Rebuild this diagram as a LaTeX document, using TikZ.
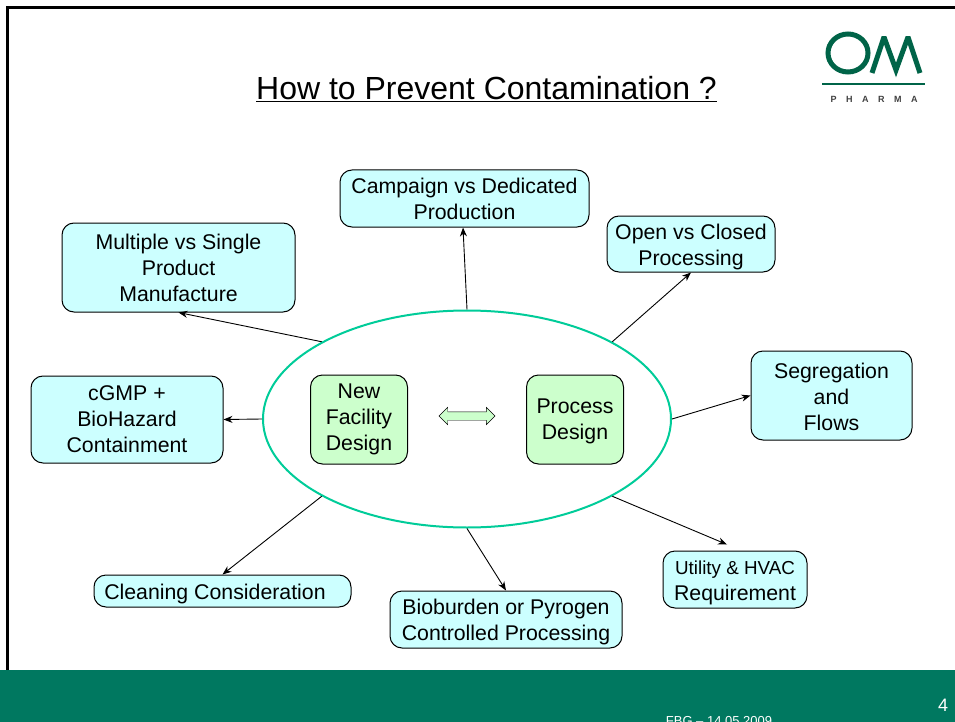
\documentclass[tikz,border=0pt]{standalone}
\usepackage{fontspec}
\setmainfont{Liberation Sans}
\usepackage{xcolor}
\definecolor{paleblue}{RGB}{204, 255, 255}
\definecolor{palegreen}{RGB}{204, 255, 204}
\definecolor{ringgreen}{RGB}{0, 204, 153}
\definecolor{bandgreen}{RGB}{0, 120, 96}
\definecolor{logogreen}{RGB}{0, 100, 72}
\usetikzlibrary{positioning, shapes.geometric, shapes.arrows, arrows.meta}
\newcommand{\nudge}{\rule{0pt}{20.5pt}}
\tikzset{
  topic/.style = {
    draw,
    line width=1pt,
    rounded corners=12pt,
    fill=paleblue,
    align=center,
    inner sep=0pt,
    font=\fontsize{21.3}{26}\selectfont
  },
  design/.style = {
    topic,
    fill=palegreen,
    minimum width=97pt,
    minimum height=89pt
  },
  arrow/.style = {
    -{Stealth[length=9pt, width=7pt]},
    line width=0.9pt
  },
}
\begin{document}
\begin{tikzpicture}[x=1pt, y=-1pt]
    \clip (0,0) rectangle (955,722);
    \fill[white] (0,0) rectangle (955,722);
    % frame and footer band
    \draw[line width=3pt] (7.5,670) -- (7.5,8) -- (955,8);
    \fill[bandgreen] (0,670) rectangle (955,722);
    \node[text=white, font=\fontsize{13}{15}\selectfont] (date) at (719,721) {FBG – 14.05.2009};
    \node[text=white, font=\fontsize{18}{20}\selectfont] (page) at (943,705) {4};
    % logo
    \draw[logogreen, line width=5pt] (848,53) ellipse (20 and 19);
    \draw[logogreen, line width=5pt, miter limit=3] (872,73) -- (884,37) -- (896,70) -- (908,37) -- (920,73);
    \draw[logogreen, line width=1.2pt] (822,84) -- (925,84);
    \node[font=\fontsize{9}{10}\bfseries\selectfont, text=black!75] (pharma) at (874,99) {P\hspace{9.5pt}H\hspace{9.5pt}A\hspace{9.5pt}R\hspace{9.5pt}M\hspace{9.5pt}A};
    % title
    \node[font=\fontsize{32}{36}\selectfont] (title) at (486.5,89.5) {\underline{How to Prevent Contamination ?}};
    % ring and the two designs
    \node[draw=ringgreen, ellipse, line width=2pt, minimum width=408pt, minimum height=217pt, inner sep=0pt] (ring) at (467,419) {};
    \node[design] (facility) at (359,419.5) {New\\Facility\\Design};
    \node[design] (process) at (575,419.5) {\rule{0pt}{17.5pt}Process\\Design};
    \node[draw, fill=palegreen, double arrow, minimum height=56pt,
      double arrow head extend=4.5pt, double arrow head indent=0pt, inner sep=0pt] (link) at (467,416) {\rule{0pt}{8pt}};
    % topics
    \node[topic, minimum width=249pt, minimum height=57pt] (campaign) at (464.5,198.5) {Campaign vs Dedicated\\Production};
    \node[topic, minimum width=233pt, minimum height=89pt] (multiple) at (178.5,267.5) {Multiple vs Single\\Product\\Manufacture};
    \node[topic, minimum width=168pt, minimum height=56pt] (open) at (691,244) {\nudge Open vs Closed\\Processing};
    \node[topic, minimum width=161pt, minimum height=89pt] (segregation) at (831.5,395.5) {\rule{0pt}{17.5pt}Segregation\\and\\Flows};
    \node[topic, minimum width=192pt, minimum height=87pt] (cgmp) at (127,419.5) {cGMP +\\BioHazard\\Containment};
    \node[topic, minimum width=257pt, minimum height=32pt] (cleaning) at (222.5,591) {\nudge Cleaning Consideration\hspace*{15pt}};
    \node[topic, minimum width=232pt, minimum height=57pt] (bioburden) at (506,619.5) {\nudge Bioburden or Pyrogen\\Controlled Processing};
    \node[topic, minimum width=144pt, minimum height=57pt] (utility) at (735,579.5) {{\fontsize{18.8}{26}\selectfont\nudge Utility \& HVAC}\\Requirement};
    % connectors
    \draw[arrow] (ring.north) -- ([xshift=-1.5pt]campaign.south);
    \draw[arrow] (ring.152) -- (multiple.south);
    \draw[arrow] (ring.28) -- (open.south);
    \draw[arrow] (ring.0) -- (segregation.west);
    \draw[arrow] (ring.180) -- (cgmp.east);
    \draw[arrow] (ring.208) -- (cleaning.north);
    \draw[arrow] (ring.270) -- (bioburden.north);
    \draw[arrow] (ring.332) -- ([xshift=-8pt, yshift=6pt]utility.north);
\end{tikzpicture}
\end{document}
